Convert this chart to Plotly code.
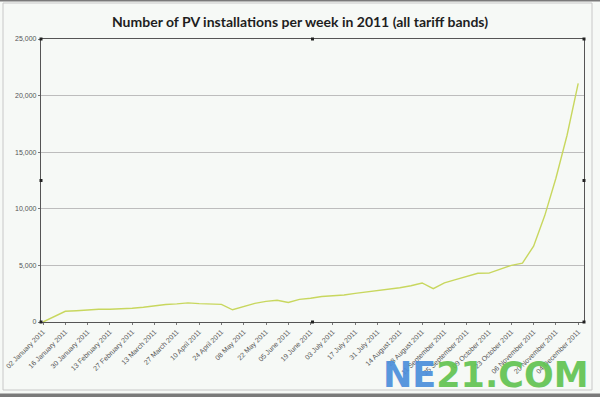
import plotly.graph_objects as go

weeks = [
    "02 January 2011", "09 January 2011", "16 January 2011", "23 January 2011", "30 January 2011",
    "06 February 2011", "13 February 2011", "20 February 2011", "27 February 2011",
    "06 March 2011", "13 March 2011", "20 March 2011", "27 March 2011",
    "03 April 2011", "10 April 2011", "17 April 2011", "24 April 2011",
    "01 May 2011", "08 May 2011", "15 May 2011", "22 May 2011", "29 May 2011",
    "05 June 2011", "12 June 2011", "19 June 2011", "26 June 2011",
    "03 July 2011", "10 July 2011", "17 July 2011", "24 July 2011", "31 July 2011",
    "07 August 2011", "14 August 2011", "21 August 2011", "28 August 2011",
    "04 September 2011", "11 September 2011", "18 September 2011", "25 September 2011",
    "02 October 2011", "09 October 2011", "16 October 2011", "23 October 2011", "30 October 2011",
    "06 November 2011", "13 November 2011", "20 November 2011", "27 November 2011",
    "04 December 2011",
]
installations = [
    0, 450, 950, 1000, 1080, 1120, 1130, 1150, 1220, 1300,
    1450, 1550, 1600, 1690, 1620, 1590, 1560, 1080, 1350, 1650,
    1820, 1920, 1720, 2000, 2100, 2250, 2320, 2380, 2530, 2640,
    2800, 2900, 3020, 3200, 3450, 2950, 3450, 3750, 4000, 4300,
    4320, 4650, 5000, 5200, 6700, 9400, 12700, 16500, 21080,
]
tick_labels = weeks[::2]
y_ticks = [0, 5000, 10000, 15000, 20000, 25000]

x_idx = list(range(len(weeks)))

fig = go.Figure()
fig.add_trace(go.Scatter(
    x=x_idx, y=installations, mode="lines",
    line=dict(color="#c8d75e", width=1.4),
    hoverinfo="skip", showlegend=False,
))

# plot-area pixel geometry: x 41..584, y 39..322
PW, PH = 543.0, 283.0
def px(x):
    return (x - 41) / PW
def py(y):
    return (322 - y) / PH

shapes = []
# outer chart frame
shapes.append(dict(type="rect", xref="paper", yref="paper",
                   x0=px(3), x1=px(592), y0=py(3), y1=py(390),
                   line=dict(color="#c8c8c8", width=1), layer="below"))
# screenshot dark bands
shapes.append(dict(type="rect", xref="paper", yref="paper",
                   x0=px(0), x1=px(600), y0=py(0), y1=py(1.5),
                   line=dict(width=0), fillcolor="#7a7a7a"))
shapes.append(dict(type="rect", xref="paper", yref="paper",
                   x0=px(0), x1=px(600), y0=py(393.5), y1=py(397),
                   line=dict(width=0), fillcolor="#7a7a7a"))
# selection handles
for hx in (0, 0.5, 1):
    for hy in (0, 0.5, 1):
        if hx == 0.5 and hy == 0.5:
            continue
        shapes.append(dict(type="rect", xref="paper", yref="paper",
                           xsizemode="pixel", ysizemode="pixel",
                           xanchor=hx, yanchor=hy,
                           x0=-1.5, x1=1.5, y0=-1.5, y1=1.5,
                           line=dict(width=0), fillcolor="#222222"))

fig.update_layout(
    width=600, height=397,
    margin=dict(l=41, r=16, t=39, b=75, autoexpand=False),
    paper_bgcolor="#f6f9f6", plot_bgcolor="#f6f9f6",
    title=dict(text="<b>Number of PV installations per week in 2011 (all tariff bands)</b>",
               x=0.5, xanchor="center", y=1 - 22.5 / 397, yanchor="middle",
               font=dict(family="Lato", size=14, color="#1e1e1e")),
    shapes=shapes,
    xaxis=dict(
        automargin=False,
        range=[-0.18, 48.52], tickmode="array",
        tickvals=x_idx[::2], ticktext=tick_labels, tickangle=-45,
        tickfont=dict(family="Liberation Sans", size=7, color="#555555"),
        showgrid=False, zeroline=False,
        showline=True, linecolor="#555555", linewidth=1.2, mirror=True,
        ticks="outside", ticklen=2, tickcolor="#777777",
    ),
    yaxis=dict(
        automargin=False,
        range=[0, 25000], tickmode="array", tickvals=y_ticks,
        tickformat=",d",
        tickfont=dict(family="Liberation Sans", size=7, color="#555555"),
        showgrid=True, gridcolor="#bdbdbd", gridwidth=1, zeroline=False,
        showline=True, linecolor="#555555", linewidth=1.2, mirror=True,
        ticks="outside", ticklen=2, tickcolor="#777777",
    ),
    annotations=[dict(
        text="<b><span style='color:#4b8fdb'>NE</span><span style='color:#62c352'>21.COM</span></b>",
        xref="paper", yref="paper", x=px(590), y=py(375), xanchor="right", yanchor="middle",
        showarrow=False, opacity=0.92,
        font=dict(family="DejaVu Sans", size=35),
    )],
)

fig.write_html("out.html", config={"displayModeBar": False},
               post_script="document.body.style.margin='0';")
